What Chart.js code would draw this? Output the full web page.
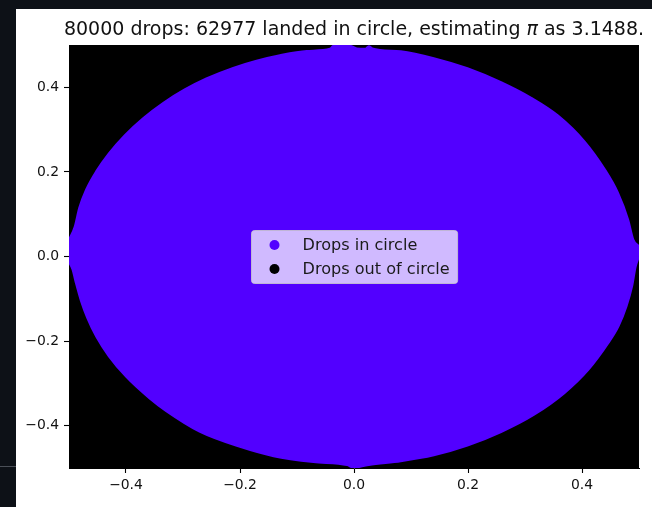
<!DOCTYPE html>
<html>
<head>
<meta charset="utf-8">
<script src="https://cdn.jsdelivr.net/npm/chart.js@4/dist/chart.umd.min.js"></script>
<style>
  html, body { margin: 0; padding: 0; }
  body { width: 652px; height: 507px; background: #0d1117; position: relative; overflow: hidden; }
  #rule { position: absolute; left: 0; top: 466px; width: 16px; height: 1px; background: #4a4f57; }
  #figure { position: absolute; left: 16px; top: 9px; width: 636px; height: 498px; background: #ffffff; }
  canvas { display: block; }
</style>
</head>
<body>
<div id="rule"></div>
<div id="figure"><canvas id="chart" width="636" height="498"></canvas></div>
<script>
// Run summary
const dropCount = 80000;
const insideCount = 62977;
const piEstimate = '3.1488';

// Outline of the region covered by drops inside the circle (upper and lower edge)
const insideUpperX = [-0.5, -0.490, -0.482, -0.470, -0.452, -0.430, -0.402, -0.370, -0.335, -0.297, -0.259, -0.212, -0.171, -0.130, -0.083, -0.042, -0.036, -0.007, 0.005, 0.020, 0.026, 0.032, 0.082, 0.140, 0.199, 0.258, 0.311, 0.358, 0.405, 0.440, 0.463, 0.481, 0.490, 0.5];
const insideUpperY = [0.040, 0.070, 0.115, 0.158, 0.202, 0.244, 0.287, 0.327, 0.363, 0.395, 0.421, 0.446, 0.463, 0.476, 0.486, 0.491, 0.498, 0.498, 0.492, 0.491, 0.497, 0.492, 0.485, 0.469, 0.445, 0.412, 0.375, 0.333, 0.271, 0.206, 0.151, 0.087, 0.040, 0.024];
const insideLowerX = [-0.5, -0.494, -0.488, -0.479, -0.468, -0.452, -0.430, -0.400, -0.359, -0.330, -0.271, -0.200, -0.141, -0.071, -0.012, -0.001, 0.011, 0.026, 0.082, 0.140, 0.199, 0.258, 0.316, 0.369, 0.411, 0.446, 0.464, 0.478, 0.488, 0.494, 0.5];
const insideLowerY = [-0.013, -0.030, -0.062, -0.105, -0.145, -0.190, -0.236, -0.284, -0.335, -0.365, -0.414, -0.450, -0.472, -0.486, -0.493, -0.499, -0.497, -0.493, -0.484, -0.470, -0.447, -0.415, -0.374, -0.323, -0.268, -0.205, -0.165, -0.118, -0.070, -0.025, 0.0];

// Drops outside the circle cover the rest of the square
const outsideTopX = [-0.5, 0.5];
const outsideTopY = [0.5, 0.5];
const outsideFloor = -0.5;

// Axes
const axisMin = -0.5;
const axisMax = 0.5;
const xTickValues = [-0.4, -0.2, 0.0, 0.2, 0.4];
const xTickLabels = ['\u22120.4', '\u22120.2', '0.0', '0.2', '0.4'];
const yTickValues = [-0.4, -0.2, 0.0, 0.2, 0.4];
const yTickLabels = ['\u22120.4', '\u22120.2', '0.0', '0.2', '0.4'];

const insideColor = '#5200ff';
const outsideColor = '#000000';
const FONT = "'DejaVu Sans', 'Liberation Sans', sans-serif";

const toPoints = (xs, ys) => xs.map((x, i) => ({ x: x, y: ys[i] }));

const datasets = [
  {
    label: 'Drops in circle',
    data: toPoints(insideUpperX, insideUpperY),
    showLine: true,
    cubicInterpolationMode: 'monotone',
    borderColor: insideColor,
    backgroundColor: insideColor,
    borderWidth: 2,
    pointRadius: 0,
    fill: '+1',
    clip: 0,
    inLegend: true
  },
  {
    label: 'Drops in circle',
    data: toPoints(insideLowerX, insideLowerY),
    showLine: true,
    cubicInterpolationMode: 'monotone',
    borderColor: insideColor,
    backgroundColor: insideColor,
    borderWidth: 2,
    pointRadius: 0,
    fill: false,
    clip: 0,
    inLegend: false
  },
  {
    label: 'Drops out of circle',
    data: toPoints(outsideTopX, outsideTopY),
    showLine: true,
    borderColor: outsideColor,
    backgroundColor: outsideColor,
    borderWidth: 0,
    pointRadius: 0,
    fill: { value: outsideFloor },
    clip: 0,
    inLegend: true
  }
];

// Title with an italic pi, centred over the plotting area
const titlePlugin = {
  id: 'mixedTitle',
  afterDraw(chart) {
    const ctx = chart.ctx;
    const area = chart.chartArea;
    const size = 19;
    const parts = [
      { text: dropCount + ' drops: ' + insideCount + ' landed in circle, estimating ', font: size + 'px ' + FONT },
      { text: '\u03c0', font: 'italic ' + size + 'px ' + FONT },
      { text: ' as ' + piEstimate + '.', font: size + 'px ' + FONT }
    ];
    ctx.save();
    let total = 0;
    parts.forEach(p => { ctx.font = p.font; p.w = ctx.measureText(p.text).width; total += p.w; });
    let x = (area.left + area.right) / 2 - total / 2;
    const y = area.top - 10;
    ctx.fillStyle = '#111';
    ctx.textBaseline = 'alphabetic';
    ctx.textAlign = 'left';
    parts.forEach(p => { ctx.font = p.font; ctx.fillText(p.text, x, y); x += p.w; });
    ctx.restore();
  }
};

// Legend box drawn in the middle of the plotting area
const legendPlugin = {
  id: 'centerLegend',
  afterDatasetsDraw(chart) {
    const ctx = chart.ctx;
    const area = chart.chartArea;
    const items = chart.data.datasets.filter(d => d.inLegend);
    const size = 16.1;
    ctx.save();
    ctx.font = size + 'px ' + FONT;
    const textW = Math.max(...items.map(d => ctx.measureText(d.label).width));
    const w = 51 + textW + 8;
    const rowH = 24;
    const h = 53;
    const cx = (area.left + area.right) / 2;
    const cy = (area.top + area.bottom) / 2;
    const left = Math.round(cx - w / 2) + 0.5;
    const top = Math.round(cy - h / 2) + 0.5;
    ctx.beginPath();
    ctx.roundRect(left, top, w, h, 3);
    ctx.fillStyle = 'rgba(255,255,255,0.73)';
    ctx.fill();
    ctx.strokeStyle = 'rgba(204,204,204,0.8)';
    ctx.lineWidth = 1;
    ctx.stroke();
    items.forEach((d, i) => {
      const yc = top + 14.5 + i * rowH;
      ctx.beginPath();
      ctx.arc(left + 23, yc, 5, 0, Math.PI * 2);
      ctx.fillStyle = d.backgroundColor;
      ctx.fill();
      ctx.fillStyle = '#1a1a1a';
      ctx.textBaseline = 'middle';
      ctx.textAlign = 'left';
      ctx.fillText(d.label, left + 51, yc + 0.5);
    });
    ctx.restore();
  }
};

const tickFont = { family: FONT, size: 13.9 };

new Chart(document.getElementById('chart'), {
  type: 'scatter',
  data: { datasets: datasets },
  options: {
    responsive: false,
    devicePixelRatio: 1,
    animation: false,
    events: [],
    layout: { padding: { top: 36, right: 13, bottom: 0, left: 0 } },
    plugins: {
      legend: { display: false },
      title: { display: false },
      tooltip: { enabled: false },
      filler: { propagate: false }
    },
    scales: {
      x: {
        type: 'linear',
        min: axisMin,
        max: axisMax,
        afterBuildTicks: axis => { axis.ticks = xTickValues.map(v => ({ value: v })); },
        afterFit: axis => { axis.height = 39; },
        ticks: {
          autoSkip: false,
          maxRotation: 0,
          padding: 4,
          color: '#111',
          font: tickFont,
          callback: (v, i) => xTickLabels[i]
        },
        grid: { drawOnChartArea: false, drawTicks: true, tickLength: 5, tickWidth: 1.1, tickColor: '#000' },
        border: { display: true, color: '#000', width: 1 }
      },
      y: {
        type: 'linear',
        min: axisMin,
        max: axisMax,
        afterBuildTicks: axis => { axis.ticks = yTickValues.map(v => ({ value: v })); },
        afterFit: axis => { axis.width = 53; },
        ticks: {
          autoSkip: false,
          padding: 5,
          color: '#111',
          font: tickFont,
          callback: (v, i) => yTickLabels[i]
        },
        grid: { drawOnChartArea: false, drawTicks: true, tickLength: 5, tickWidth: 1.1, tickColor: '#000' },
        border: { display: true, color: '#000', width: 1 }
      }
    }
  },
  plugins: [titlePlugin, legendPlugin]
});
</script>
</body>
</html>
